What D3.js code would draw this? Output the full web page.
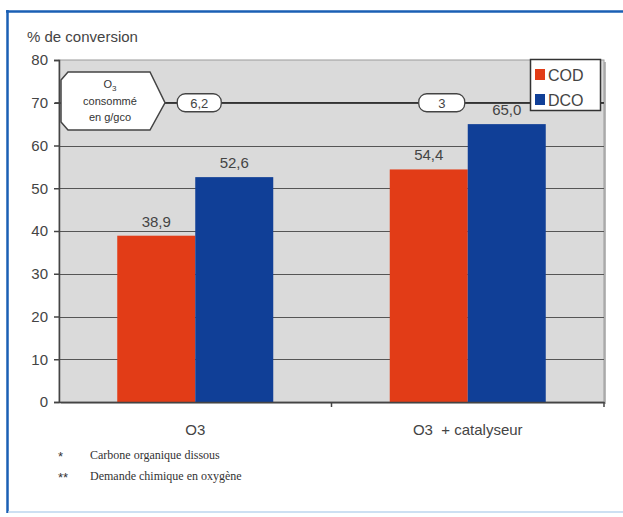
<!DOCTYPE html>
<html><head><meta charset="utf-8">
<script src="https://cdn.jsdelivr.net/npm/d3@7"></script>
<style>body{margin:0;background:#fff}svg{display:block}text{white-space:pre}</style>
</head><body>
<svg id="c" width="623" height="517"></svg>
<script>
const categories = ["O3", "O3  + catalyseur"];
const series = ["COD", "DCO"];
const codValues = [38.9, 54.4];
const dcoValues = [52.6, 65.0];
const ozoneConsumed = ["6,2", "3"];
const yTicks = [0, 10, 20, 30, 40, 50, 60, 70, 80];
const footnotes = [["*", "Carbone organique dissous"], ["**", "Demande chimique en oxygène"]];
const colors = {COD: "#e23c17", DCO: "#103f97"};

const svg = d3.select("#c");
const font = "Liberation Sans, Arial, sans-serif";
const fmt = v => d3.format(".1f")(v).replace(".", ",");

// frame
svg.append("line").attr("x1", 7.5).attr("x2", 7.5).attr("y1", 10).attr("y2", 513).attr("stroke", "#1a5fb4").attr("stroke-width", 2.5);
svg.append("line").attr("x1", 6).attr("x2", 623).attr("y1", 11.5).attr("y2", 11.5).attr("stroke", "#1a5fb4").attr("stroke-width", 2.5);
svg.append("line").attr("x1", 8).attr("x2", 623).attr("y1", 512).attr("y2", 512).attr("stroke", "#bcd6ee").attr("stroke-width", 1.5);

const L = 59, R = 604, T = 60, B = 402;
const x = d3.scaleBand().domain(categories).range([L, R]);
const bw = x.bandwidth();
const xs = d3.scaleBand().domain(series).range([(bw - 156) / 2, (bw + 156) / 2]);
const y = d3.scaleLinear().domain([0, 80]).range([B, T]);

// plot area
svg.append("rect").attr("x", L + 2).attr("y", T + 2).attr("width", R - L).attr("height", B - T)
  .attr("fill", "#b9b9b9");
svg.append("rect").attr("x", L).attr("y", T).attr("width", R - L).attr("height", B - T)
  .attr("fill", "#dadada").attr("stroke", "#9a9a9a").attr("stroke-width", 1);

// gridlines
svg.append("g").selectAll("line").data(yTicks.filter(d => d > 0 && d < 80)).join("line")
  .attr("x1", L).attr("x2", R).attr("y1", d => Math.round(y(d)) + 0.5).attr("y2", d => Math.round(y(d)) + 0.5)
  .attr("stroke", "#555").attr("stroke-width", 1.2);

// bars
const rows = categories.map((c, i) => ({cat: c, COD: codValues[i], DCO: dcoValues[i]}));
const g = svg.append("g");
rows.forEach(r => {
  series.forEach(s => {
    g.append("rect").attr("x", x(r.cat) + xs(s)).attr("y", y(r[s]))
      .attr("width", xs.bandwidth()).attr("height", y(0) - y(r[s])).attr("fill", colors[s]);
    g.append("text").attr("x", x(r.cat) + xs(s) + xs.bandwidth() / 2).attr("y", y(r[s]) - 9)
      .attr("text-anchor", "middle").attr("font-family", font).attr("font-size", 15)
      .attr("fill", "#444").text(fmt(r[s]));
  });
});

// axes
const yAxis = d3.axisLeft(y).tickValues(yTicks).tickSize(5).tickPadding(6);
const ya = svg.append("g").attr("transform", `translate(${L},0)`).call(yAxis);
ya.select(".domain").attr("stroke", "#444").attr("stroke-width", 1.5);
ya.selectAll(".tick line").attr("stroke", "#444").attr("stroke-width", 1.5);
ya.selectAll("text").attr("font-family", font).attr("font-size", 15).attr("fill", "#444");

const xAxis = d3.axisBottom(x).tickSize(0).tickPadding(22);
const xa = svg.append("g").attr("transform", `translate(0,${B})`).call(xAxis);
xa.select(".domain").attr("stroke", "#444").attr("stroke-width", 1.5);
xa.selectAll("text").attr("font-family", font).attr("font-size", 15).attr("fill", "#444")
  .attr("xml:space", "preserve").style("white-space", "pre");
// category separator ticks
svg.append("g").selectAll("line").data([R - bw, R]).join("line")
  .attr("x1", d => d).attr("x2", d => d).attr("y1", B).attr("y2", B + 5)
  .attr("stroke", "#444").attr("stroke-width", 1.5);

// title
svg.append("text").attr("x", 27).attr("y", 42).attr("font-family", font).attr("font-size", 15)
  .attr("fill", "#444").text("% de conversion");

// ozone annotation
const ay = y(70);
svg.append("line").attr("x1", 165).attr("x2", R).attr("y1", ay).attr("y2", ay)
  .attr("stroke", "#333").attr("stroke-width", 1.5);
const hex = [[68, 72], [150, 72], [165, ay], [150, 130], [68, 130], [61, 122], [61, 80]];
svg.append("polygon").attr("points", hex.map(p => p.join(",")).join(" "))
  .attr("fill", "#fff").attr("stroke", "#444").attr("stroke-width", 1.5);
svg.append("line").attr("x1", 55).attr("x2", 61).attr("y1", ay).attr("y2", ay).attr("stroke", "#444").attr("stroke-width", 1.2);
const ht = svg.append("text").attr("font-family", font).attr("font-size", 11).attr("fill", "#333").attr("text-anchor", "middle");
ht.append("tspan").attr("x", 110).attr("y", 88).text("O");
ht.append("tspan").attr("dy", 3).attr("font-size", 8).text("3");
svg.append("text").attr("x", 110).attr("y", 105).attr("font-family", font).attr("font-size", 11).attr("fill", "#333").attr("text-anchor", "middle").text("consommé");
svg.append("text").attr("x", 110).attr("y", 121).attr("font-family", font).attr("font-size", 11).attr("fill", "#333").attr("text-anchor", "middle").text("en g/gco");

const annOffsets = [4, -26];
const annWidths = [44, 46];
categories.forEach((c, i) => {
  const cx = x(c) + bw / 2 + annOffsets[i];
  svg.append("rect").attr("x", cx - annWidths[i] / 2).attr("y", ay - 9).attr("width", annWidths[i]).attr("height", 18)
    .attr("rx", 8).attr("fill", "#fff").attr("stroke", "#444").attr("stroke-width", 1.3);
  svg.append("text").attr("x", cx).attr("y", ay + 5).attr("text-anchor", "middle")
    .attr("font-family", font).attr("font-size", 13).attr("fill", "#444").text(ozoneConsumed[i]);
});

// legend
const lg = svg.append("g");
lg.append("rect").attr("x", 530.5).attr("y", 59.5).attr("width", 70).attr("height", 51)
  .attr("fill", "#fff").attr("stroke", "#333").attr("stroke-width", 1.5);
series.forEach((s, i) => {
  const yy = 75 + i * 25;
  lg.append("rect").attr("x", 535).attr("y", yy - 6).attr("width", 10).attr("height", 11).attr("fill", colors[s]);
  lg.append("text").attr("x", 548).attr("y", yy + 6).attr("font-family", font).attr("font-size", 16)
    .attr("fill", "#444").text(s);
});

// footnotes
footnotes.forEach((f, i) => {
  const yy = 459 + i * 21;
  svg.append("text").attr("x", 58).attr("y", yy + 2).attr("font-family", font).attr("font-size", 13).attr("fill", "#333").text(f[0]);
  svg.append("text").attr("x", 90).attr("y", yy).attr("font-family", "Liberation Serif, serif").attr("font-size", 12).attr("fill", "#333").text(f[1]);
});
</script>
</body></html>
